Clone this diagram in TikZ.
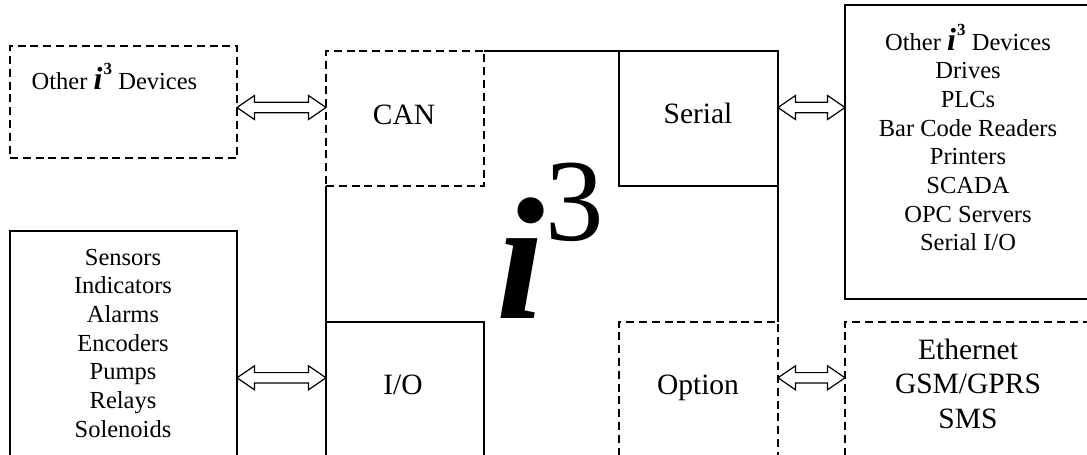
\documentclass[tikz,border=0pt]{standalone}
\usepackage{fontspec}
\setmainfont{Liberation Serif}
\usetikzlibrary{calc,fit}
\newcommand\myithree{{\fontsize{16}{16}\selectfont\bfseries\itshape i}\kern0.6pt\raisebox{7.3pt}{\fontsize{8.5}{8.5}\selectfont\bfseries 3}}
\begin{document}
\begin{tikzpicture}[x=0.5pt,y=-0.5pt,
  box/.style={draw, line width=0.7pt, inner sep=0pt, outer sep=0pt},
  dbox/.style={box, dash pattern=on 4pt off 2.4pt},
  smalltxt/.style={font=\fontsize{12.25}{14.35}\selectfont, inner sep=0pt, anchor=base},
  bigtxt/.style={font=\fontsize{14.75}{17.25}\selectfont, inner sep=0pt, anchor=base},
  dblarrow/.style={draw, line width=0.6pt, line join=miter,
    to path={let \p1=(\tikztostart), \p2=(\tikztotarget) in
      (\x1,\y1) -- (\x1+8.75pt,\y1+6pt) -- (\x1+8.75pt,\y1+2.6pt) -- (\x2-8.75pt,\y1+2.6pt)
      -- (\x2-8.75pt,\y1+6pt) -- (\x2,\y1) -- (\x2-8.75pt,\y1-6pt) -- (\x2-8.75pt,\y1-2.6pt)
      -- (\x1+8.75pt,\y1-2.6pt) -- (\x1+8.75pt,\y1-6pt) -- cycle}}
]
\useasboundingbox (0,0) rectangle (1087,455);
\clip (0,0) rectangle (1087,455);

% boxes
\node[dbox, fit={(10,46) (237,158)}] (oth) {};
\node[dbox, fit={(326,51) (484,186)}] (can) {};
\node[box, fit={(619,51) (778,186)}] (serial) {};
\node[box, fit={(845,5) (1100,299)}] (right) {};
\node[box, fit={(10,231) (237,480)}] (left) {};
\node[box, fit={(326,322) (484,480)}] (io) {};
\node[dbox, fit={(619,322) (778,480)}] (option) {};
\node[dbox, fit={(845,322) (1100,480)}] (eth) {};

% main body outline
\draw[box] (can.north east) -- (serial.north west);
\draw[box] (can.south west) -- (io.north west);
\draw[box] (serial.south east) -- (option.north east);

% big i^3
\node[inner sep=0pt, anchor=base, font=\fontsize{87}{87}\selectfont\bfseries\itshape] (bigi) at (521,318) {i};
\node[inner sep=0pt, anchor=base, font=\fontsize{58.5}{58.5}\selectfont] (bigthree) at (575,240) {3};

% labels
\node[smalltxt] (othtxt) at (114.5,89.5) {Other \myithree{} Devices};
\node[bigtxt] (cantxt) at (404,124) {CAN};
\node[bigtxt] (sertxt) at (698,123) {Serial};
\node[bigtxt] (iotxt) at (403,394) {I/O};
\node[bigtxt] (opttxt) at (698,394) {Option};
\node[bigtxt] (eth1) at (968,359) {Ethernet};
\node[bigtxt] (eth2) at (968,393.5) {GSM/GPRS};
\node[bigtxt] (eth3) at (968,428) {SMS};

\node[smalltxt] (rt0) at (968,50) {Other \myithree{} Devices};
\foreach \t [count=\k] in {Drives,PLCs,Bar Code Readers,Printers,SCADA,OPC Servers,Serial I/O}
  \node[smalltxt] (rt\k) at (968,{50+28.7*\k}) {\t};

\foreach \t [count=\k] in {Sensors,Indicators,Alarms,Encoders,Pumps,Relays,Solenoids}
  \node[smalltxt] (lt\k) at (123,{265+28.7*(\k-1)}) {\t};

% connectors
\coordinate (ya) at (0,107.5);
\coordinate (yb) at (0,377.8);
\draw[dblarrow] (oth.east |- ya) to (can.west |- ya);
\draw[dblarrow] (serial.east |- ya) to (right.west |- ya);
\draw[dblarrow] (left.east |- yb) to (io.west |- yb);
\draw[dblarrow] (option.east |- yb) to (eth.west |- yb);
\end{tikzpicture}
\end{document}
